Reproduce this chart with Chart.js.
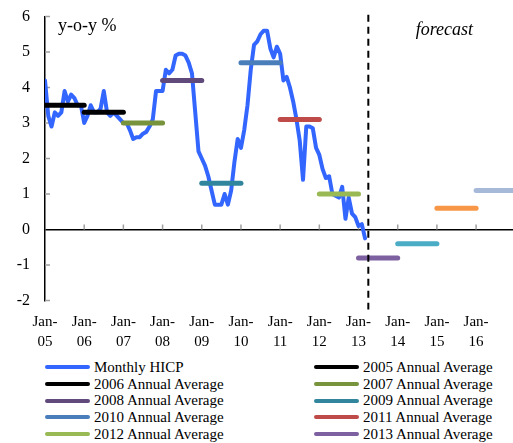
<!DOCTYPE html>
<html>
<head>
<meta charset="utf-8">
<script src="https://cdn.jsdelivr.net/npm/chart.js@4.4.1/dist/chart.umd.min.js"></script>
<style>
  body { margin: 0; background: #fff; font-family: "Liberation Serif", "Times New Roman", serif; }
  #wrap { position: relative; width: 513px; height: 355px; }
  #legend { display: grid; grid-template-columns: 269px 200px; margin: 4px 0 0 45px; font-size: 15px; line-height: 16.7px; color: #000; }
  .item { display: flex; align-items: center; white-space: nowrap; }
  .swatch { width: 45px; height: 4px; border-radius: 2px; margin-right: 4px; }
</style>
</head>
<body>
<div id="wrap"><canvas id="myChart"></canvas></div>
<div id="legend"></div>
<script>
// monthly HICP y-o-y %, Jan-05 .. Mar-13
const hicp = [
  4.2, 3.2, 2.9, 3.3, 3.2, 3.3, 3.9, 3.6, 3.8, 3.7, 3.5, 3.5,
  3.0, 3.2, 3.5, 3.3, 3.3, 3.4, 3.9, 3.3, 3.2, 3.3, 3.2, 3.1,
  3.0, 3.0, 2.8, 2.55, 2.6, 2.6, 2.7, 2.75, 2.9, 3.1, 3.9, 3.9,
  3.9, 4.5, 4.4, 4.5, 4.9, 4.95, 4.95, 4.9, 4.7, 4.4, 3.3, 2.2,
  2.0, 1.8, 1.5, 1.1, 0.7, 0.7, 0.7, 1.0, 0.7, 1.1, 1.9, 2.55,
  2.3, 2.8, 3.5, 4.5, 5.2, 5.3, 5.5, 5.6, 5.6, 5.1, 4.85, 5.15,
  4.95, 4.2, 4.3, 4.0, 3.6, 3.1, 2.5, 1.4, 2.9, 2.9, 2.85, 2.3,
  2.1, 1.7, 1.45, 1.5, 1.0, 0.95, 0.9, 1.2, 0.3, 0.9, 0.45, 0.35,
  0.1, 0.15, -0.25
];
const years = [2005, 2006, 2007, 2008, 2009, 2010, 2011, 2012, 2013, 2014, 2015, 2016];
const annualAvg = [3.5, 3.3, 3.0, 4.2, 1.3, 4.7, 3.1, 1.0, -0.8, -0.4, 0.6, 1.1];
const avgColors = ['#000000', '#000000', '#77933C', '#604A7B', '#31859C', '#4A7EBB',
                   '#BE4B48', '#98B954', '#7D60A0', '#4BACC6', '#F79646', '#A7B9D9'];
const inLegend = [true, true, true, true, true, true, true, true, true, false, false, false];
const tickLabels = ['05', '06', '07', '08', '09', '10', '11', '12', '13', '14', '15', '16'];
const forecastStart = 99; // Apr-13, months from Jan-05

const serif = '"Liberation Serif", "Times New Roman", serif';

const datasets = [{
  label: 'Monthly HICP',
  data: hicp.map((v, i) => ({ x: i, y: v })),
  borderColor: '#3366FF',
  borderWidth: 4,
  borderJoinStyle: 'round',
  borderCapStyle: 'round',
  pointRadius: 0,
  order: 2
}];
years.forEach((yr, i) => {
  datasets.push({
    label: yr + ' Annual Average',
    data: [{ x: i * 12, y: annualAvg[i] }, { x: i * 12 + 12, y: annualAvg[i] }],
    borderColor: avgColors[i],
    borderWidth: 5,
    borderCapStyle: 'round',
    pointRadius: 0,
    order: 1
  });
});
datasets.push({
  label: 'forecast line',
  data: [{ x: forecastStart, y: 6.05 }, { x: forecastStart, y: -2.25 }],
  borderColor: '#000',
  borderWidth: 2,
  borderDash: [7, 5],
  pointRadius: 0,
  clip: false,
  order: 0
});

// small grey tick marks on the zero line and inside the y axis
const tickMarks = {
  id: 'tickMarks',
  beforeDatasetsDraw(chart) {
    const { ctx, scales: { x, y } } = chart;
    ctx.save();
    ctx.strokeStyle = '#A0A0A0';
    ctx.lineWidth = 1.5;
    const y0 = y.getPixelForValue(0);
    x.ticks.forEach(t => {
      if (t.value === 0) return;
      const px = x.getPixelForValue(t.value);
      ctx.beginPath(); ctx.moveTo(px, y0); ctx.lineTo(px, y0 - 5); ctx.stroke();
    });
    y.ticks.forEach(t => {
      if (t.value === 0) return;
      const py = y.getPixelForValue(t.value);
      ctx.beginPath(); ctx.moveTo(x.left, py); ctx.lineTo(x.left + 5, py); ctx.stroke();
    });
    ctx.restore();
  }
};

const notes = {
  id: 'notes',
  afterDraw(chart) {
    const { ctx, scales: { x, y } } = chart;
    ctx.save();
    ctx.fillStyle = '#000';
    ctx.textBaseline = 'middle';
    ctx.font = '18px ' + serif;
    ctx.fillText('y-o-y %', x.getPixelForValue(4), y.getPixelForValue(5.73));
    ctx.font = 'italic 18px ' + serif;
    ctx.fillText('forecast', x.getPixelForValue(113.5), y.getPixelForValue(5.62));
    ctx.restore();
  }
};

new Chart(document.getElementById('myChart'), {
  type: 'line',
  data: { datasets },
  plugins: [tickMarks, notes],
  options: {
    responsive: true,
    maintainAspectRatio: false,
    animation: false,
    devicePixelRatio: 1,
    layout: { padding: { top: 16.5, right: 0, left: 0, bottom: 0 } },
    plugins: { legend: { display: false }, tooltip: { enabled: false } },
    scales: {
      x: {
        type: 'linear',
        min: 0,
        max: 143.3,
        grid: { display: false, drawTicks: false },
        border: { display: false },
        afterBuildTicks: s => { s.ticks = tickLabels.map((_, i) => ({ value: i * 12 })); },
        afterFit: s => { s.height = 54.5; },
        ticks: {
          color: '#000',
          padding: 12,
          maxRotation: 0,
          autoSkip: false,
          font: { family: serif, size: 15, lineHeight: '20px' },
          callback: (v) => ['Jan-', tickLabels[Math.round(v / 12)]]
        }
      },
      y: {
        min: -2,
        max: 6,
        grid: {
          drawTicks: false,
          color: c => (c.tick && c.tick.value === 0) ? '#000' : 'rgba(0,0,0,0)',
          lineWidth: 1.5
        },
        border: { display: true, color: '#000', width: 1.5 },
        afterFit: s => { s.width = 45; s.paddingTop = 0; s.paddingBottom = 0; },
        ticks: {
          stepSize: 1,
          color: '#000',
          padding: 15,
          font: { family: serif, size: 16 }
        }
      }
    }
  }
});

// legend: two columns, row-wise order
const legend = document.getElementById('legend');
const items = [{ name: 'Monthly HICP', color: '#3366FF' }];
years.forEach((yr, i) => { if (inLegend[i]) items.push({ name: yr + ' Annual Average', color: avgColors[i] }); });
items.forEach(it => {
  const d = document.createElement('div');
  d.className = 'item';
  d.innerHTML = '<span class="swatch" style="background:' + it.color + '"></span><span>' + it.name + '</span>';
  legend.appendChild(d);
});
</script>
</body>
</html>
